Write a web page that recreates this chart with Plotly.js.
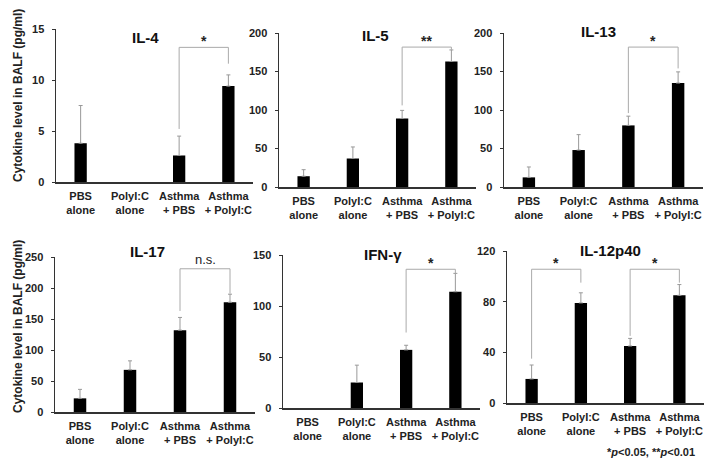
<!DOCTYPE html>
<html>
<head>
<meta charset="utf-8">
<script src="https://cdn.plot.ly/plotly-3.0.1.min.js"></script>
<style>html,body{margin:0;padding:0;background:#fff;}#chart{width:704px;height:462px;}</style>
</head>
<body>
<div id="chart"></div>
<script>
const categories = ['PBS<br>alone', 'PolyI:C<br>alone', 'Asthma<br>+ PBS', 'Asthma<br>+ PolyI:C'];
const panelTitles = ['IL-4', 'IL-5', 'IL-13', 'IL-17', 'IFN-γ', 'IL-12p40'];

const il4 = [3.8, 0, 2.6, 9.4];
const il4Err = [3.7, 0, 1.9, 1.1];
const il5 = [14, 37, 89, 163];
const il5Err = [8.5, 15, 10.5, 15];
const il13 = [12.5, 48, 80, 135];
const il13Err = [13.5, 20, 12, 14.5];
const il17 = [22, 68, 132, 177];
const il17Err = [14.5, 14.5, 20.5, 13];
const ifng = [0, 25, 57, 114];
const ifngErr = [0, 17, 4.5, 18];
const il12 = [19, 79, 45, 85];
const il12Err = [11, 8, 6, 8.5];

const yMax = [15, 200, 200, 250, 150, 120];
const yStep = [5, 50, 50, 50, 50, 40];

// significance brackets: [panel, from, to, top, leftBottom, rightBottom, label]
const brackets = [
  [0, 2, 3, 13.2, 5.2, 11.6, '*'],
  [1, 2, 3, 181.7, 106, 178, '**'],
  [2, 2, 3, 181.7, 96, 154, '*'],
  [3, 2, 3, 231, 163, 191, 'n.s.'],
  [4, 2, 3, 136, 74, 132, '*'],
  [5, 0, 1, 105.6, 35, 95, '*'],
  [5, 2, 3, 105.6, 53, 95, '*']
];

const values = [il4, il5, il13, il17, ifng, il12];
const errs = [il4Err, il5Err, il13Err, il17Err, ifngErr, il12Err];

// layout geometry (pixels)
const W = 704, H = 462;
const xPx = [[56, 253], [279, 476], [504, 703], [55, 255], [283, 480], [507, 704]];
const yPx = [[29, 182], [33, 187], [33, 187], [257, 412], [255, 408], [251, 403]];
const titlePos = [[145, 37], [375, 35], [598, 31], [147, 252], [383, 254], [610, 250]];

const fontFam = '"Liberation Sans", Arial, sans-serif';
const data = [];
const layout = {
  width: W, height: H,
  margin: {l: 0, r: 0, t: 0, b: 0},
  paper_bgcolor: '#fff', plot_bgcolor: '#fff',
  showlegend: false,
  font: {family: fontFam, color: '#222'},
  shapes: [], annotations: []
};

for (let i = 0; i < 6; i++) {
  const s = i === 0 ? '' : String(i + 1);
  data.push({
    type: 'bar',
    x: [0, 1, 2, 3],
    y: values[i].map(v => v === 0 ? null : v),
    xaxis: 'x' + s, yaxis: 'y' + s,
    width: 0.25,
    marker: {color: '#000', line: {width: 0}},
    error_y: {type: 'data', symmetric: false,
              array: errs[i].map((e, j) => values[i][j] === 0 ? null : e),
              arrayminus: [0, 0, 0, 0],
              color: '#999', thickness: 1, width: 2},
    hoverinfo: 'skip'
  });
  layout['xaxis' + s] = {
    domain: [xPx[i][0] / W, xPx[i][1] / W],
    anchor: 'y' + s,
    range: [-0.5, 3.5],
    tickvals: [0, 1, 2, 3], ticktext: categories,
    ticks: '', showgrid: false, zeroline: false,
    showline: true, linecolor: '#333', linewidth: 1.5,
    tickfont: {family: fontFam, size: 11, weight: 'bold', color: '#222'},
    ticklabelstandoff: 3,
    fixedrange: true
  };
  layout['yaxis' + s] = {
    domain: [1 - yPx[i][1] / H, 1 - yPx[i][0] / H],
    anchor: 'x' + s,
    range: [0, yMax[i]], dtick: yStep[i], tick0: 0,
    ticks: 'outside', ticklen: 3, tickcolor: '#333', tickwidth: 1,
    showgrid: false, zeroline: false,
    showline: true, linecolor: '#333', linewidth: 1.5,
    tickfont: {family: fontFam, size: 11, weight: 'bold', color: '#222'},
    ticklabelstandoff: 5,
    fixedrange: true
  };
  layout.annotations.push({
    text: panelTitles[i], xref: 'paper', yref: 'paper',
    x: titlePos[i][0] / W, y: 1 - titlePos[i][1] / H,
    xanchor: 'center', yanchor: 'middle', showarrow: false,
    font: {family: fontFam, size: 15, weight: 'bold', color: '#111'}
  });
}

brackets.forEach(b => {
  const s = b[0] === 0 ? '' : String(b[0] + 1);
  layout.shapes.push({
    type: 'path', xref: 'x' + s, yref: 'y' + s,
    path: `M ${b[1]} ${b[4]} L ${b[1]} ${b[3]} L ${b[2]} ${b[3]} L ${b[2]} ${b[5]}`,
    line: {color: '#aaa', width: 1}
  });
  const ns = b[6] === 'n.s.';
  layout.annotations.push({
    text: b[6], xref: 'x' + s, yref: 'y' + s,
    x: (b[1] + b[2]) / 2, y: b[3], xanchor: 'center', yanchor: 'bottom',
    yshift: ns ? 0 : -4, showarrow: false,
    font: {family: fontFam, size: ns ? 13 : 14, weight: ns ? 'normal' : 'bold', color: '#222'}
  });
});

// y axis titles
[[18, 96], [18, 327]].forEach(p => {
  layout.annotations.push({
    text: 'Cytokine level in BALF (pg/ml)', xref: 'paper', yref: 'paper',
    x: p[0] / W, y: 1 - p[1] / H, xanchor: 'center', yanchor: 'middle',
    textangle: -90, showarrow: false,
    font: {family: fontFam, size: 12, weight: 'bold', color: '#222'}
  });
});

layout.annotations.push({
  text: '*<i>p</i><0.05, **<i>p</i><0.01', xref: 'paper', yref: 'paper',
  x: 697 / W, y: 1 - 452 / H, xanchor: 'right', yanchor: 'middle', showarrow: false,
  font: {family: fontFam, size: 11, weight: 'bold', color: '#222'}
});

Plotly.newPlot('chart', data, layout, {displayModeBar: false, staticPlot: true});
</script>
</body>
</html>
